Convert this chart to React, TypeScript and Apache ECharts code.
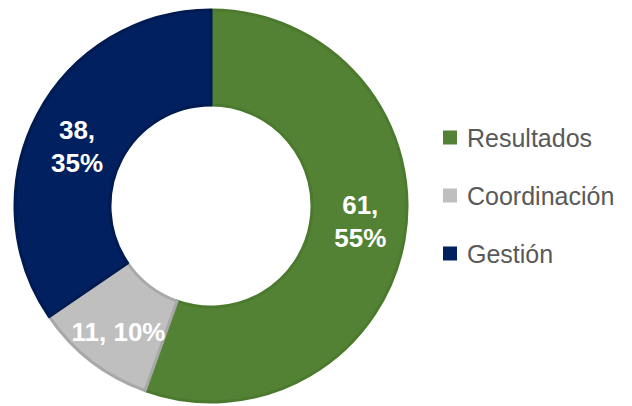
import React, { useEffect, useRef } from "react";
import * as echarts from "echarts";

const categories = ["Resultados", "Coordinación", "Gestión"];
const values = [61, 11, 38];
const percents = [55, 10, 35];
const labelTexts = ["61,\n55%", "11, 10%", "38,\n35%"];
const fillColors = ["#548235", "#bfbfbf", "#002060"];
const borderColors = ["#4b7a2e", "#a8a8a8", "#001b52"];
const labelShiftY = [-10, 6, 11];

export default function App() {
  const ref = useRef<HTMLDivElement>(null);
  useEffect(() => {
    if (!ref.current) return;
    const chart = echarts.init(ref.current, null, { renderer: "svg" });
    const data = categories.map((name, i) => ({
      name,
      value: values[i],
      pct: percents[i],
      itemStyle: { color: fillColors[i], borderColor: borderColors[i], borderWidth: 3 },
      label: { formatter: labelTexts[i] },
    }));
    chart.setOption({
      animation: false,
      backgroundColor: "#ffffff",
      legend: {
        orient: "vertical",
        left: 438,
        top: 120,
        itemWidth: 14,
        itemHeight: 14,
        itemGap: 33,
        icon: "rect",
        data: categories.map((name, i) => ({ name, itemStyle: { color: fillColors[i], borderWidth: 0 } })),
        textStyle: {
          fontFamily: "Liberation Sans, Arial, sans-serif",
          fontSize: 25,
          color: "#595959",
          padding: [0, 0, 0, 5],
        },
      },
      series: [
        {
          type: "pie",
          center: [211, 206],
          radius: [101, 196],
          startAngle: 90,
          clockwise: true,
          avoidLabelOverlap: false,
          label: {
            show: true,
            position: "inside",
            color: "#ffffff",
            fontFamily: "Liberation Sans, Arial, sans-serif",
            fontWeight: "bold",
            fontSize: 26,
            lineHeight: 33,
            align: "center",
          },
          labelLayout: (params: any) => ({ dy: labelShiftY[params.dataIndex] || 0 }),
          labelLine: { show: false },
          emphasis: { disabled: true },
          data,
        },
      ],
    });
    return () => chart.dispose();
  }, []);
  return (
    <div
      ref={ref}
      style={{ position: "fixed", left: 0, top: 0, width: 632, height: 406 }}
    />
  );
}
